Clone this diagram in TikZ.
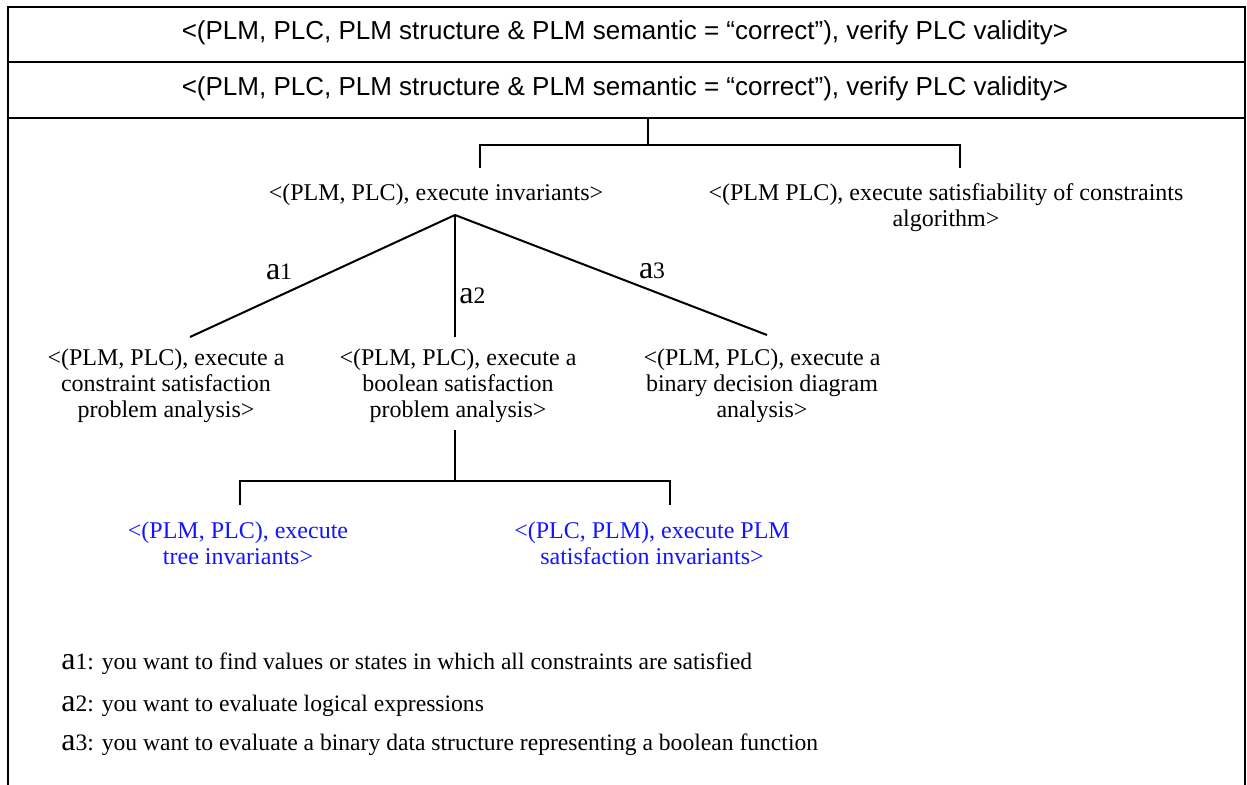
\documentclass[tikz,border=0pt]{standalone}
\usepackage{fontspec}
\setmainfont{Liberation Serif}
\newfontfamily\hdrsans{Liberation Sans}
\usepackage{tikz}
\usetikzlibrary{positioning,calc}
\definecolor{PlanBlue}{RGB}{20,20,255}
\newcommand{\optlab}[1]{{\fontsize{16}{16}\selectfont a}#1}
\tikzset{
  hdr/.style={font={\hdrsans\fontsize{13}{15}\selectfont},inner sep=0pt},
  goal/.style={font={\fontsize{12}{13}\selectfont},align=center,inner sep=0pt},
  subgoal/.style={goal,text=PlanBlue},
  link/.style={draw=black,line width=1pt},
  frame/.style={draw=black,line width=1.1pt},
  note/.style={font={\fontsize{11.8}{13}\selectfont},anchor=west,inner sep=0pt},
}

\begin{document}
\begin{tikzpicture}[x=0.5pt,y=-0.5pt]
\useasboundingbox (0,0) rectangle (1247,785);
% outer table
\draw[frame] (8,785)--(8,7)--(1245,7)--(1245,785);
\draw[frame] (8,62)--(1245,62);
\draw[frame] (8,118)--(1245,118);
\node[hdr] (row1) at (625,33) {<(PLM, PLC, PLM structure \& PLM semantic = “correct”), verify PLC validity>};
\node[hdr] (row2) at (625,89) {<(PLM, PLC, PLM structure \& PLM semantic = “correct”), verify PLC validity>};
% first level
\node[goal] (inv) at (436,195) {<(PLM, PLC), execute invariants>};
\node[goal] (sat) at (946,208) {<(PLM PLC), execute satisfiability of constraints\\algorithm>};
\coordinate (top) at (648,118);
\coordinate (j0) at (648,145);
\coordinate (jl) at (480,145);
\coordinate (jr) at (960,145);
\coordinate (tl) at (480,168);
\coordinate (tr) at (960,168);
\draw[link] (top)--(j0);
\draw[link] (tl)--(jl)--(jr)--(tr);
% invariants
\coordinate (apex) at (455,215);
\node[goal] (csp) at (166,386) {<(PLM, PLC), execute a\\constraint satisfaction\\problem analysis>};
\node[goal] (bsp) at (458,386) {<(PLM, PLC), execute a\\boolean satisfaction\\problem analysis>};
\node[goal] (bdd) at (762,386) {<(PLM, PLC), execute a\\binary decision diagram\\analysis>};
\coordinate (e1) at (190,337);
\coordinate (e2) at (455,337);
\coordinate (e3) at (767,335);
\draw[link] (apex)--(e1);
\draw[link] (apex)--(e2);
\draw[link] (apex)--(e3);
\node[note,anchor=center] (l1) at (279,272) {\optlab{1}};
\node[note] (l2) at (459,296) {\optlab{2}};
\node[note,anchor=center] (l3) at (652,271) {\optlab{3}};
% boolean children
\node[subgoal] (tree) at (238,543) {<(PLM, PLC), execute\\tree invariants>};
\node[subgoal] (plmsat) at (652,543) {<(PLC, PLM), execute PLM\\satisfaction invariants>};
\coordinate (b0) at (455,481);
\coordinate (bl) at (240,481);
\coordinate (br) at (670,481);
\coordinate (btop) at (455,430);
\draw[link] (btop)--(b0);
\draw[link] (240,505)--(bl)--(br)--(670,505);
% legend
\node[note] (k1) at (61,664) {\optlab{1}: you want to find values or states in which all constraints are satisfied};
\node[note] (k2) at (61,706) {\optlab{2}: you want to evaluate logical expressions};
\node[note] (k3) at (61,745) {\optlab{3}: you want to evaluate a binary data structure representing a boolean function};
\end{tikzpicture}
\end{document}
